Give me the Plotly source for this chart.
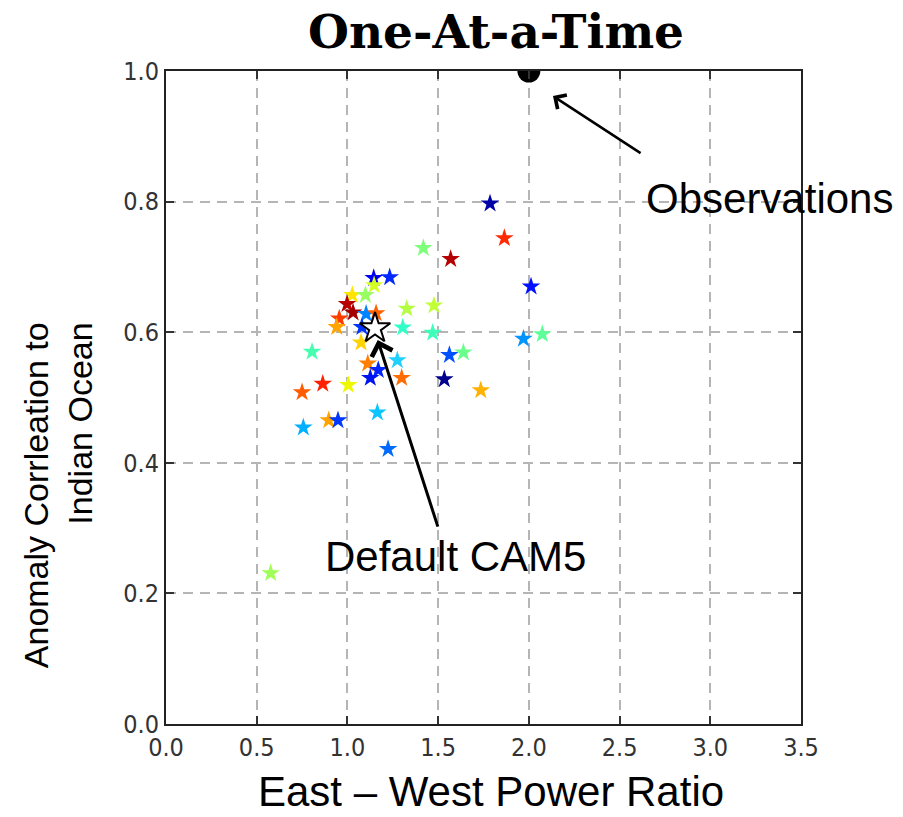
import plotly.graph_objects as go

# ---- data ----
ppe_x = [1.786, 1.865, 1.418, 1.569, 2.012, 1.327, 1.477, 1.305, 1.470, 1.970,
         2.074, 1.562, 1.639, 1.534, 1.735, 1.145, 1.233, 1.147, 1.027, 1.099,
         0.998, 1.031, 0.955, 0.941, 1.103, 1.158, 1.080, 1.075, 0.805, 1.112,
         1.275, 1.170, 1.126, 1.299, 0.864, 1.005, 0.750, 0.757, 0.897, 0.948,
         1.165, 1.224, 0.577]
ppe_y = [0.797, 0.744, 0.729, 0.712, 0.670, 0.636, 0.641, 0.607, 0.599, 0.590,
         0.597, 0.565, 0.569, 0.528, 0.511, 0.683, 0.684, 0.672, 0.657, 0.657,
         0.643, 0.630, 0.621, 0.608, 0.628, 0.629, 0.608, 0.584, 0.570, 0.552,
         0.557, 0.542, 0.530, 0.530, 0.521, 0.519, 0.508, 0.454, 0.465, 0.465,
         0.477, 0.421, 0.231]
ppe_color = ["#0000a8", "#ff2a00", "#7dff7a", "#b40000", "#0010ff", "#b4ff43", "#c1ff36", "#30ffc7", "#3dffb9", "#0094ff",
             "#5dff99", "#0050ff", "#6aff8d", "#00008d", "#ffb200", "#0000ee", "#0028ff", "#d4ff23", "#ffe600", "#97ff60",
             "#b80000", "#a40000", "#ff3b00", "#ffa400", "#0084ff", "#ff6000", "#0034ff", "#ffd300", "#46ffb0", "#ff7e00",
             "#20d0ff", "#0024ff", "#0014f0", "#ff6c00", "#ff2000", "#f0f800", "#ff5c00", "#00b0ff", "#ffa200", "#0038ff",
             "#0cc4ff", "#006cff", "#a0ff56"]
obs_x = [2.0]
obs_y = [1.0]
default_x = [1.152]
default_y = [0.606]

x_tickvals = [0.0, 0.5, 1.0, 1.5, 2.0, 2.5, 3.0, 3.5]
x_ticktext = ["0.0", "0.5", "1.0", "1.5", "2.0", "2.5", "3.0", "3.5"]
y_tickvals = [0.0, 0.2, 0.4, 0.6, 0.8, 1.0]
y_ticktext = ["0.0", "0.2", "0.4", "0.6", "0.8", "1.0"]

fig = go.Figure()
fig.add_trace(go.Scatter(x=ppe_x, y=ppe_y, mode="markers",
                         marker=dict(symbol="star", size=14, color=ppe_color,
                                     line=dict(width=0)),
                         showlegend=False, hoverinfo="skip"))
fig.add_trace(go.Scatter(x=obs_x, y=obs_y, mode="markers",
                         marker=dict(symbol="circle", size=23, color="black"),
                         showlegend=False, cliponaxis=True))
fig.add_trace(go.Scatter(x=default_x, y=default_y, mode="markers",
                         marker=dict(symbol="star", size=23, color="white",
                                     line=dict(width=2, color="black")),
                         showlegend=False))

axis_common = dict(showgrid=True, gridcolor="#b5b5b5", griddash="10px,7px", gridwidth=1.5,
                   zeroline=False, showline=True, linecolor="#222", linewidth=2,
                   mirror="allticks", ticks="inside", ticklen=8, tickwidth=1.5, tickcolor="#333",
                   tickfont=dict(family="DejaVu Sans Condensed, DejaVu Sans", size=25, color="#333"))

fig.update_xaxes(range=[0, 3.5], tickvals=x_tickvals, ticktext=x_ticktext, **axis_common)
fig.update_yaxes(range=[0, 1.0], tickvals=y_tickvals, ticktext=y_ticktext, **axis_common)

ann = [
    # title
    dict(text="<b>One-At-a-Time</b>", xref="paper", yref="paper", x=0.52, y=1.06,
         xanchor="center", yanchor="middle", showarrow=False,
         font=dict(family="DejaVu Serif", size=47, color="black")),
    # x title
    dict(text="East \u2013 West Power Ratio", xref="paper", yref="paper", x=0.512, y=-0.104,
         xanchor="center", yanchor="middle", showarrow=False,
         font=dict(family="Liberation Sans", size=42, color="black")),
    # y title
    dict(text="Anomaly Corrleation to<br>Indian Ocean", xref="paper", yref="paper",
         x=-0.171, y=0.619, xanchor="center", yanchor="top", textangle=-90, align="right",
         showarrow=False, font=dict(family="Liberation Sans", size=34, color="black")),
    # Observations label + arrow
    dict(text="Observations", xref="x", yref="y", x=3.324, y=0.804,
         xanchor="center", yanchor="middle", showarrow=False,
         font=dict(family="Liberation Sans", size=42, color="black")),
    dict(text="", xref="x", yref="y", x=2.133, y=0.9617, axref="x", ayref="y",
         ax=2.624, ay=0.8727, showarrow=True, arrowhead=4, arrowsize=1.3,
         arrowwidth=2.5, arrowcolor="black", standoff=0),
    # Default CAM5 label + arrow
    dict(text="Default CAM5", xref="x", yref="y", x=1.593, y=0.256,
         xanchor="center", yanchor="middle", showarrow=False,
         font=dict(family="Liberation Sans", size=42, color="black")),
    dict(text="", xref="x", yref="y", x=1.167, y=0.588, axref="x", ayref="y",
         ax=1.501, ay=0.300, showarrow=True, arrowhead=4, arrowsize=1.4,
         arrowwidth=3, arrowcolor="black", standoff=0),
]

fig.update_layout(width=903, height=817, margin=dict(l=166, r=102, t=71, b=93),
                  paper_bgcolor="white", plot_bgcolor="white", annotations=ann,
                  showlegend=False)

fig.write_html("out.html")
